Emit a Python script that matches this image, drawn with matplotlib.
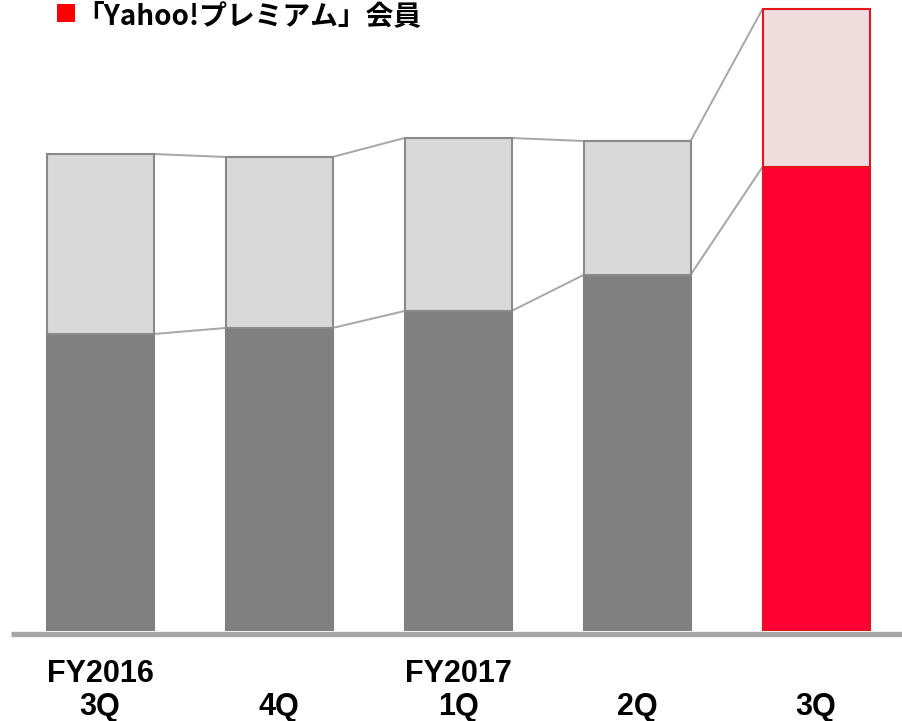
import matplotlib
matplotlib.use("Agg")
import matplotlib.pyplot as plt
from matplotlib.patches import Rectangle
from matplotlib.transforms import blended_transform_factory

# ---- data (relative units) ----
years = ["FY2016", "", "FY2017", "", ""]
quarters = ["3Q", "4Q", "1Q", "2Q", "3Q"]
base_values = [297, 303, 320, 356, 464]      # lower (dark) segment
upper_values = [180, 171, 173, 134, 158]     # upper (light) segment
legend_label = "「Yahoo!プレミアム」会員"

# ---- styles ----
dark_colors = ["#808080", "#808080", "#808080", "#808080", "#ff0033"]
light_colors = ["#d9d9d9", "#d9d9d9", "#d9d9d9", "#d9d9d9", "#f0dcdc"]
edge_colors = ["#8a8a8a", "#8a8a8a", "#8a8a8a", "#8a8a8a", "#e3161e"]
dark_edges = ["#808080", "#808080", "#808080", "#808080", "#e3161e"]
conn_color = "#a6a6a6"

W, H, DPI = 902, 721, 100
fig = plt.figure(figsize=(W / DPI, H / DPI), dpi=DPI)
base_px = 631
ax = fig.add_axes([0, (H - base_px) / H, 1, base_px / H])
ax.set_xlim(-100 / 179, 802 / 179)
ax.set_ylim(0, base_px)
ax.axis("off")

x = list(range(len(quarters)))
width = 107 / 179
lw = 1.5

totals = [b + u for b, u in zip(base_values, upper_values)]

# connectors
for i in range(len(x) - 1):
    for lev in (base_values, totals):
        ax.plot([x[i] + width / 2, x[i + 1] - width / 2], [lev[i], lev[i + 1]],
                color=conn_color, lw=1.4, zorder=1, solid_capstyle="butt")

ax.bar(x, base_values, width=width, color=dark_colors, edgecolor=dark_edges,
       linewidth=lw, zorder=2)
ax.bar(x, upper_values, bottom=base_values, width=width, color=light_colors,
       edgecolor=edge_colors, linewidth=lw, zorder=3)

# baseline
ax.plot([(11 - 100) / 179, (902 - 100) / 179], [-2.5, -2.5], color="#a6a6a6",
        lw=3.8, solid_capstyle="butt", clip_on=False, zorder=4)

# category labels
tr = blended_transform_factory(ax.transData, fig.transFigure)
for xi, yr, q in zip(x, years, quarters):
    if yr:
        ax.text(xi, (H - 682) / H, yr, transform=tr, ha="center", va="baseline",
                fontsize=22, fontweight="bold", family="Liberation Sans")
    ax.text(xi, (H - 715) / H, q, transform=tr, ha="center", va="baseline",
            fontsize=22, fontweight="bold", family="Liberation Sans")

# legend
fig.patches.append(Rectangle((57 / W, (H - 22) / H), 18 / W, 18 / H,
                             transform=fig.transFigure, facecolor="#ff0000",
                             edgecolor="none", figure=fig))
fig.text(76 / W, (H - 24) / H, legend_label, ha="left", va="baseline",
         fontsize=20, fontweight="bold",
         family=["Noto Sans CJK JP", "DejaVu Sans"])

fig.savefig("out.png", dpi=DPI)
